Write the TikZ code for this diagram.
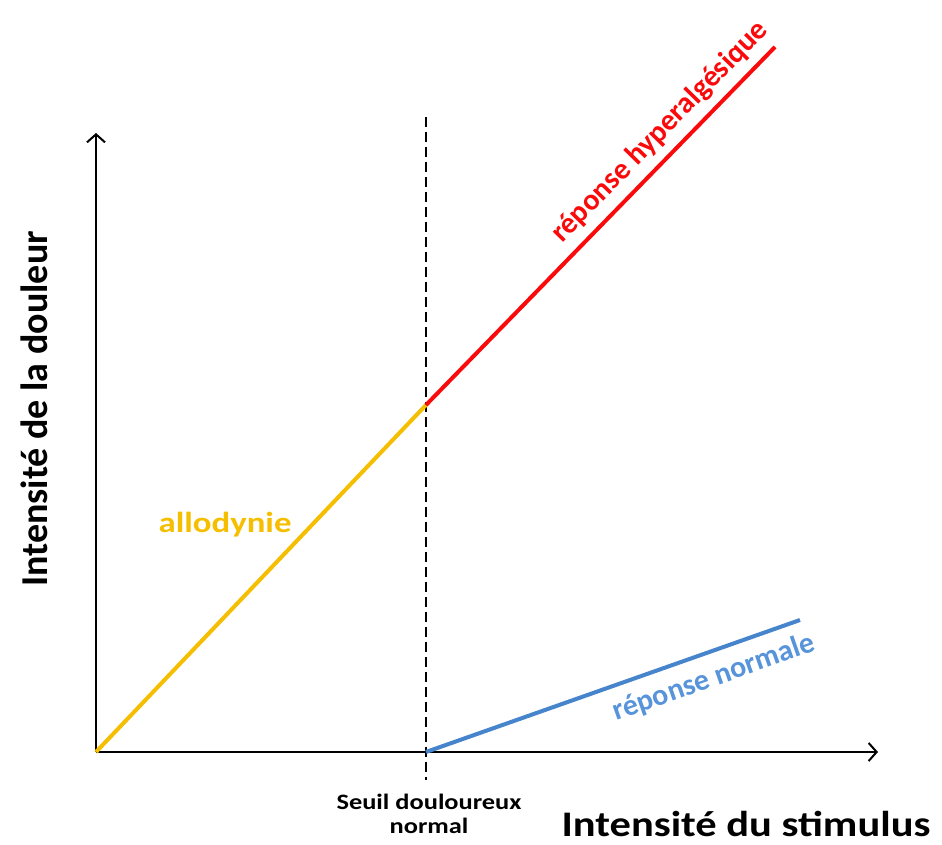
\documentclass[tikz,border=0pt]{standalone}
\usepackage{fontspec}
\setmainfont{Carlito}
\usetikzlibrary{arrows.meta}
\definecolor{allo}{RGB}{245,190,0}
\definecolor{hyper}{RGB}{250,10,10}
\definecolor{norm}{RGB}{70,132,204}
\definecolor{normtxt}{RGB}{88,148,218}

\begin{document}
\begin{tikzpicture}[x=1pt,y=1pt,
    axe/.style={line width=2pt,-{Straight Barb[length=8pt,width=18pt,line width=2pt]}},
    courbe/.style={line width=4pt},
    lbl/.style={font=\bfseries\fontsize{30}{32}\selectfont,inner sep=0pt}]
\useasboundingbox (0,0) rectangle (942,845);
    \coordinate (O) at (96,93);
    \coordinate (ytop) at (96,712);
    \coordinate (xend) at (878,93);
    \coordinate (S) at (426,93);
    \coordinate (dtop) at (426,728);
    \coordinate (dbot) at (426,65);
    \coordinate (A) at (426,440);
    \coordinate (R) at (775,798);
    \coordinate (B) at (800,225);
% axes
    \draw[axe] (O) -- (ytop);
    \draw[axe] (O) -- (xend);
    \draw[line width=1.5pt,dash pattern=on 10pt off 5pt] (dtop) -- (dbot);
% courbes
    \draw[courbe,allo] (O) -- (A);
    \draw[courbe,hyper] (A) -- (R);
    \draw[courbe,norm] (S) -- (B);
% textes
    \node[lbl,font=\bfseries\fontsize{38}{40}\selectfont,rotate=90,anchor=base] (ylab) at (47,436) {Intensité de la douleur};
    \node[lbl,font=\bfseries\fontsize{36}{38}\selectfont,xscale=1.18,anchor=base] (xlab) at (746,8) {Intensité du stimulus};
    \node[font=\bfseries\fontsize{22}{24}\selectfont,xscale=1.2,align=center,inner sep=0pt] (seuil) at (429,31) {Seuil douloureux\\normal};
    \node[lbl,allo,font=\bfseries\fontsize{29}{31}\selectfont,xscale=1.2,anchor=base] (allo) at (225,312) {allodynie};
    \node[lbl,hyper,rotate=45.7] (hyp) at (660,713) {réponse hyperalgésique};
    \node[lbl,normtxt,rotate=19.4] (nrm) at (714,167) {réponse normale};
\end{tikzpicture}
\end{document}
